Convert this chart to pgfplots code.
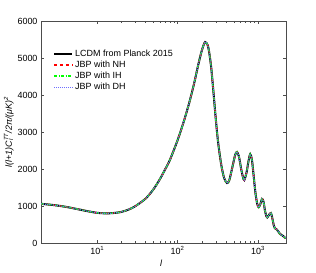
\documentclass[border=0pt]{standalone}
\usepackage{fontspec}
\setmainfont{Liberation Sans}
\usepackage{pgfplots}
\usepackage{pgfplotstable}
\pgfplotsset{compat=1.18}
\pgfplotstableread{
l D
2 1060
3 1020
4 980
5 940
6 905
7 875
8 850
10 815
12 803
15 805
20 840
25 910
30 1000
40 1200
50 1450
60 1720
70 1990
80 2240
100 2780
120 3300
140 3800
160 4300
180 4800
200 5200
220 5430
240 5300
260 4800
280 4050
300 3300
320 2700
350 2100
380 1750
412 1620
440 1700
480 2050
520 2380
548 2460
580 2330
620 1980
650 1780
675 1700
720 1900
760 2200
800 2400
840 2250
880 1850
930 1350
980 1050
1020 970
1070 1050
1120 1190
1170 1120
1220 880
1270 720
1306 690
1370 760
1450 810
1510 660
1570 480
1620 400
1700 370
1780 320
1870 250
1950 220
2050 190
2160 145
2230 135
}\cmb
\begin{document}
\begin{tikzpicture}
\useasboundingbox (0,0) rectangle (316bp,273bp);
\begin{axis}[
  at={(41bp,30bp)}, anchor=south west,
  scale only axis, width=245bp, height=222bp,
  xmode=log, xmin=2, xmax=2230,
  ymin=0, ymax=6000,
  ytick={0,1000,...,6000},
  xtick={10,100,1000},
  xticklabels={10\textsuperscript{1},10\textsuperscript{2},10\textsuperscript{3}},
  scaled y ticks=false,
  /pgf/number format/assume math mode=true,
  /pgf/number format/1000 sep={},
  tick align=inside,
  major tick length=3bp, minor tick length=1.8bp,
  axis line style={gray!60!black},
  every tick/.style={gray!60!black},
  tick label style={font=\fontsize{9}{10}\selectfont},
  xlabel={\itshape l},
  ylabel={\itshape l(l+1)C\rlap{\textsubscript{l}}\textsuperscript{TT}/2π/(μK)\textsuperscript{2}},
  label style={font=\fontsize{9}{10}\selectfont},
  xlabel style={at={(ticklabel cs:0.49)}, yshift=1bp},
  ylabel style={yshift=-3bp},
  legend style={at={(0.045,0.885)}, anchor=north west, draw=none, fill=none,
    font=\fontsize{9}{10}\selectfont, row sep=-0.8bp, inner sep=1bp},
  legend cell align=left,
  legend image code/.code={\draw[#1] (0bp,0bp) -- (18bp,0bp);},
]
\addplot[draw=black, line width=2pt, smooth] table[x=l,y=D]{\cmb};
\addplot[draw=red, dashed, line width=1.4pt, smooth] table[x=l,y=D]{\cmb};
\addplot[draw=green, dash pattern=on 3pt off 1.5pt on 1pt off 1.5pt, line width=1.4pt, smooth] table[x=l,y=D]{\cmb};
\addplot[draw={rgb,255:red,110;green,110;blue,255}, dash pattern=on 1pt off 1pt, line width=1.1pt, smooth] table[x=l,y=D]{\cmb};
\legend{LCDM from Planck 2015, JBP with NH, JBP with IH, JBP with DH}
\end{axis}
\end{tikzpicture}
\end{document}
